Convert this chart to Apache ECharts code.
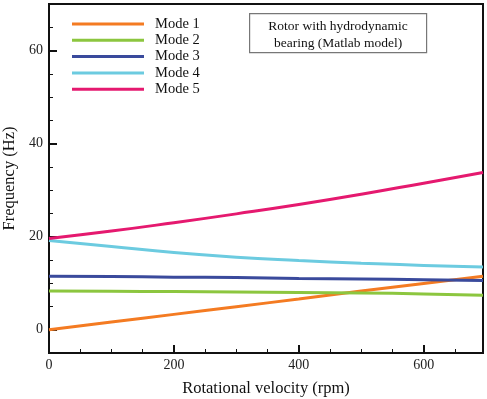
<!DOCTYPE html>
<html>
<head>
<meta charset="utf-8">
<script src="https://cdn.jsdelivr.net/npm/echarts@6/dist/echarts.min.js"></script>
<style>
  html, body { margin: 0; padding: 0; background: #fff; }
  #chart { width: 487px; height: 399px; }
</style>
</head>
<body>
<div id="chart"></div>
<script>
var rpm = [0, 100, 200, 300, 400, 500, 600, 695];
var mode1 = [0.0, 1.65, 3.3, 4.95, 6.6, 8.3, 9.95, 11.5];
var mode2 = [8.3, 8.25, 8.2, 8.1, 8.0, 7.9, 7.7, 7.4];
var mode3 = [11.5, 11.45, 11.3, 11.2, 11.0, 10.9, 10.75, 10.6];
var mode4 = [19.2, 17.9, 16.6, 15.6, 14.9, 14.3, 13.8, 13.5];
var mode5 = [19.6, 21.2, 23.0, 24.9, 26.9, 29.1, 31.5, 33.8];

var modeNames = ['Mode 1', 'Mode 2', 'Mode 3', 'Mode 4', 'Mode 5'];
var modeColors = ['#f47b22', '#8cc63f', '#3a4a9c', '#6ccbe0', '#e5196f'];

var xMajor = [0, 200, 400, 600];
var xMinor = [0, 50, 100, 150, 200, 250, 300, 350, 400, 450, 500, 550, 600, 650];
var yMajor = [0, 20, 40, 60];
var yMinor = [-5, 0, 5, 10, 15, 20, 25, 30, 35, 40, 45, 50, 55, 60, 65];

var font = 'Liberation Serif';

function pairs(ys) {
  var out = [];
  for (var i = 0; i < rpm.length; i++) out.push([rpm[i], ys[i]]);
  return out;
}

var allModes = [mode1, mode2, mode3, mode4, mode5];
var series = [];
for (var i = 0; i < allModes.length; i++) {
  series.push({
    name: modeNames[i],
    type: 'line',
    smooth: true,
    showSymbol: false,
    data: pairs(allModes[i]),
    lineStyle: { color: modeColors[i], width: 3 },
    itemStyle: { color: modeColors[i] }
  });
}

var myChart = echarts.init(document.getElementById('chart'));

var option = {
  backgroundColor: '#fff',
  animation: false,
  grid: {
    left: 49, right: 4, top: 4, bottom: 46,
    containLabel: false, outerBoundsMode: 'none',
    show: true, borderColor: '#111', borderWidth: 2
  },
  legend: {
    orient: 'vertical',
    left: 72, top: 16, padding: 0,
    icon: 'rect',
    itemWidth: 72, itemHeight: 3,
    itemGap: 0.3,
    data: modeNames,
    textStyle: { fontFamily: font, fontSize: 14.5, color: '#111', lineHeight: 16, padding: [0, 0, 0, 6] }
  },
  xAxis: [{
    type: 'value', min: 0, max: 695,
    name: 'Rotational velocity (rpm)', nameLocation: 'middle', nameGap: 27,
    nameTextStyle: { fontFamily: font, fontSize: 16.5, color: '#111' },
    axisLine: { onZero: false, lineStyle: { color: '#111', width: 2 } },
    axisTick: { inside: true, length: 8, lineStyle: { color: '#111', width: 2 }, customValues: xMajor },
    axisLabel: { fontFamily: font, fontSize: 14, color: '#222', margin: 5, customValues: xMajor },
    splitLine: { show: false }
  }, {
    type: 'value', min: 0, max: 695, position: 'bottom',
    axisLine: { show: false, onZero: false },
    axisTick: { inside: true, length: 4, lineStyle: { color: '#111', width: 1 }, customValues: xMinor },
    axisLabel: { show: false },
    splitLine: { show: false }
  }],
  yAxis: [{
    type: 'value', min: -5, max: 70,
    name: 'Frequency (Hz)', nameLocation: 'middle', nameGap: 31,
    nameTextStyle: { fontFamily: font, fontSize: 16.5, color: '#111' },
    axisLine: { onZero: false, lineStyle: { color: '#111', width: 2 } },
    axisTick: { inside: true, length: 8, lineStyle: { color: '#111', width: 2 }, customValues: yMajor },
    axisLabel: { fontFamily: font, fontSize: 14, color: '#222', margin: 6, customValues: yMajor },
    splitLine: { show: false }
  }, {
    type: 'value', min: -5, max: 70, position: 'left',
    axisLine: { show: false, onZero: false },
    axisTick: { inside: true, length: 4, lineStyle: { color: '#111', width: 1 }, customValues: yMinor },
    axisLabel: { show: false },
    splitLine: { show: false }
  }],
  graphic: [{
    type: 'group', left: 249, top: 13,
    children: [{
      type: 'rect',
      shape: { x: 0, y: 0, width: 177, height: 39 },
      style: { fill: '#fff', stroke: '#777', lineWidth: 1.2 }
    }, {
      type: 'text', x: 88.5, y: 13,
      style: { text: 'Rotor with hydrodynamic', fontFamily: font, fontSize: 13.5, fill: '#111', align: 'center', verticalAlign: 'middle' }
    }, {
      type: 'text', x: 88.5, y: 29.5,
      style: { text: 'bearing (Matlab model)', fontFamily: font, fontSize: 13.5, fill: '#111', align: 'center', verticalAlign: 'middle' }
    }]
  }],
  series: series
};

myChart.setOption(option);
</script>
</body>
</html>
